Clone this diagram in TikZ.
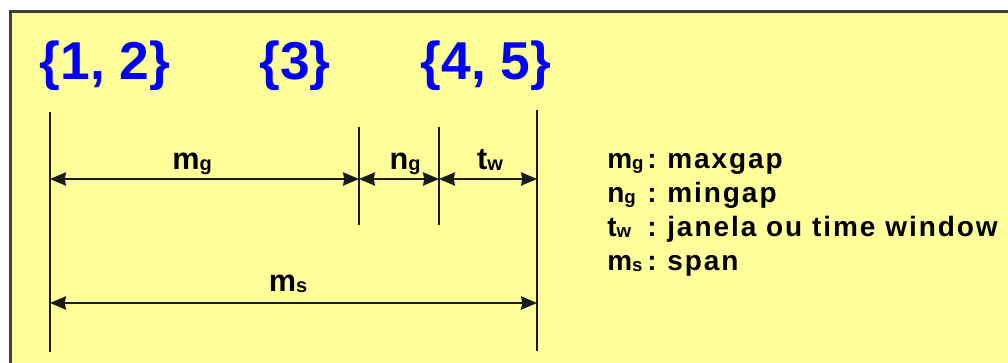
\documentclass[tikz,border=0pt]{standalone}
\usepackage{fontspec}
\setmainfont{Liberation Sans}
\newfontfamily\legendfont{Liberation Sans}[LetterSpace=7]
\usetikzlibrary{arrows.meta}
\definecolor{pyellow}{HTML}{FFFF99}
\definecolor{pblue}{HTML}{0000FF}
\definecolor{pframe}{HTML}{404040}
\definecolor{pline}{HTML}{1A1A1A}
\newcommand{\smallsub}[2][14]{\raisebox{-0.5pt}{\fontsize{#1}{#1}\selectfont #2}}

\tikzset{
  dimline/.style={{Stealth[length=12pt, width=10pt, inset=1pt]}-{Stealth[length=12pt, width=10pt, inset=1pt]},
    pline, line width=1.5pt},
  tickline/.style={pline, line width=1.5pt},
  setlabel/.style={font=\fontsize{40}{40}\selectfont\bfseries, text=pblue, anchor=base, inner sep=0pt},
  gaplabel/.style={font=\fontsize{23}{24}\selectfont\bfseries, anchor=base, inner sep=0pt},
  legendtext/.style={font=\legendfont\fontsize{21}{21}\selectfont\bfseries, inner sep=0pt}
}

\begin{document}
\begin{tikzpicture}[x=0.75pt, y=-0.75pt]

  %% Canvas and frame
  \useasboundingbox (0,0) rectangle (1008,363);
  \clip (0,0) rectangle (1008,363);
  \fill[white] (0,0) rectangle (1008,363);
  \draw[pframe, line width=2.25pt, fill=pyellow] (10.5,11.5) rectangle (1030,385);

  %% Sets above the time line
  \node[setlabel] (set12) at (105,80) {\{1, 2\}};
  \node[setlabel] (set3)  at (295,80) {\{3\}};
  \node[setlabel] (set45) at (486,80) {\{4, 5\}};

  %% Tick lines
  \foreach \nm/\x/\ytop/\ybot in {a/50/112/352, b/359/127/225, c/439/127/225, d/537/110/351}{
    \coordinate (\nm-top) at (\x,\ytop);
    \coordinate (\nm-bot) at (\x,\ybot);
    \coordinate (\nm-up) at (\x,179);
    \coordinate (\nm-low) at (\x,303);
    \draw[tickline] (\nm-top) -- (\nm-bot);
  }

  %% Intervals
  \draw[dimline] (a-up) -- (b-up);
  \draw[dimline] (b-up) -- (c-up);
  \draw[dimline] (c-up) -- (d-up);
  \draw[dimline] (a-low) -- (d-low);

  \node[gaplabel] (mg) at (192,170) {m\smallsub[15]{g}};
  \node[gaplabel] (ng) at (405,170) {n\smallsub[15]{g}};
  \node[gaplabel] (tw) at (490,170) {t\smallsub[15]{w}};
  \node[gaplabel] (ms) at (288,292) {m\smallsub[15]{s}};

  %% Legend
  \foreach \i/\sym/\txt/\yy in {1/{m\smallsub{g}}/maxgap/169, 2/{n\smallsub{g}}/mingap/203,
      3/{t\smallsub{w}}/janela ou time window/237, 4/{m\smallsub{s}}/span/271}{
    \node[legendtext, anchor=base west] (sym\i) at (607,\yy) {\sym};
    \node[legendtext, anchor=base] (colon\i) at (652,\yy) {:};
    \node[legendtext, anchor=base west] (desc\i) at (667,\yy) {\txt};
  }

\end{tikzpicture}
\end{document}
